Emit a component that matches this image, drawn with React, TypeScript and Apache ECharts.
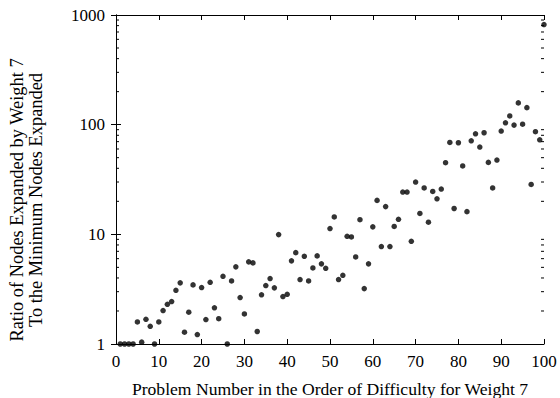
import React, { useEffect, useRef } from "react";
import * as echarts from "echarts";

// Problem numbers (x) and ratio values (y)
const problemNumbers: number[] = Array.from({ length: 100 }, (_, i) => i + 1);
const ratios: number[] = [
  1, 1, 1, 1, 1.59, 1.04, 1.68, 1.45, 1.0, 1.59,
  2.02, 2.3, 2.44, 3.09, 3.61, 1.28, 1.95, 3.46, 1.22, 3.27,
  1.67, 3.65, 2.14, 1.7, 4.14, 1.0, 3.76, 5.05, 2.65, 1.88,
  5.61, 5.49, 1.3, 2.81, 3.41, 3.95, 3.25, 9.94, 2.71, 2.84,
  5.73, 6.81, 3.87, 6.3, 3.76, 4.94, 6.36, 5.38, 4.9, 11.3,
  14.4, 3.87, 4.23, 9.59, 9.47, 6.22, 13.6, 3.2, 5.38, 11.7,
  20.4, 7.73, 17.9, 7.73, 11.8, 13.7, 24.3, 24.3, 8.64, 30.0,
  15.5, 26.5, 12.9, 24.6, 21.1, 25.9, 45.0, 68.9, 17.2, 68.4,
  42.0, 16.1, 71.3, 82.6, 62.5, 84.4, 45.3, 26.5, 47.6, 87.4,
  104, 120, 99.1, 158, 101, 143, 28.5, 86.2, 72.8, 818,
];

const xTickLabels: string[] = ["0", "10", "20", "30", "40", "50", "60", "70", "80", "90", "100"];
const yTickLabels: string[] = ["1", "10", "100", "1000"];
const minorTickValues: number[] = [
  2, 3, 4, 5, 6, 7, 8, 9,
  20, 30, 40, 50, 60, 70, 80, 90,
  200, 300, 400, 500, 600, 700, 800, 900,
];

const xTitle = "Problem Number in the Order of Difficulty for Weight 7";
const yTitleLine1 = "Ratio of Nodes Expanded by Weight 7";
const yTitleLine2 = "To the Minimum Nodes Expanded";

const FS = 17;
const XTFS = 17.6;
const YTFS = 18.4;
const SERIF = `"Liberation Serif", serif`;

export default function App() {
  const ref = useRef<HTMLDivElement>(null);

  useEffect(() => {
    document.body.style.margin = "0";
    if (!ref.current) return;
    const chart = echarts.init(ref.current, undefined, { renderer: "svg" });

    const axisLine = { show: true, lineStyle: { color: "#000", width: 1 } };
    const majorTick = { show: true, inside: true, length: 5, lineStyle: { color: "#000", width: 1 } };

    const yLabelFormatter = (v: number) => {
      const e = Math.round(Math.log10(v));
      return yTickLabels[e] ?? String(v);
    };
    const xLabelFormatter = (v: number) => xTickLabels[Math.round(v / 10)] ?? String(v);

    const titleStyle = (text: string, size: number) => ({
      text,
      font: `${size}px ${SERIF}`,
      fill: "#000",
      align: "center",
      verticalAlign: "middle",
      textAlign: "center",
      textVerticalAlign: "middle",
    });

    const option: any = {
      animation: false,
      backgroundColor: "#fff",
      grid: { left: 116, right: 16, top: 15, bottom: 54, containLabel: false },
      xAxis: [
        {
          type: "value",
          min: 0,
          max: 100,
          interval: 10,
          position: "bottom",
          axisLine,
          axisTick: majorTick,
          axisLabel: { color: "#000", fontFamily: "Times New Roman", fontSize: FS, margin: 9, formatter: xLabelFormatter },
          splitLine: { show: false },
        },
        {
          type: "value",
          min: 0,
          max: 100,
          interval: 10,
          position: "top",
          axisLine,
          axisTick: majorTick,
          axisLabel: { show: false },
          splitLine: { show: false },
        },
      ],
      yAxis: [
        {
          type: "log",
          logBase: 10,
          min: 1,
          max: 1000,
          position: "left",
          axisLine,
          axisTick: majorTick,
          axisLabel: { color: "#000", fontFamily: "Times New Roman", fontSize: FS, margin: 11, formatter: yLabelFormatter },
          splitLine: { show: false },
        },
        {
          type: "log",
          logBase: 10,
          min: 1,
          max: 1000,
          position: "right",
          axisLine,
          axisTick: majorTick,
          axisLabel: { show: false },
          splitLine: { show: false },
        },
      ],
      series: [
        {
          type: "custom",
          silent: true,
          xAxisIndex: 0,
          yAxisIndex: 0,
          clip: false,
          data: minorTickValues.map((v) => [0, v]),
          renderItem: (_params: any, api: any) => {
            const v = api.value(1);
            const pL = api.coord([0, v]);
            const pR = api.coord([100, v]);
            const st = { stroke: "#000", lineWidth: 1 };
            return {
              type: "group",
              children: [
                { type: "line", shape: { x1: pL[0], y1: pL[1], x2: pL[0] + 3, y2: pL[1] }, style: st },
                { type: "line", shape: { x1: pR[0] - 3, y1: pR[1], x2: pR[0], y2: pR[1] }, style: st },
              ],
            };
          },
        },
        {
          type: "scatter",
          xAxisIndex: 0,
          yAxisIndex: 0,
          clip: false,
          symbol: "circle",
          symbolSize: 5.5,
          itemStyle: { color: "#000" },
          data: problemNumbers.map((n, i) => [n, ratios[i]]),
        },
      ],
      graphic: [
        { type: "text", x: 330, y: 388.5, style: titleStyle(xTitle, XTFS) },
        { type: "text", x: 17, y: 200, rotation: Math.PI / 2, style: titleStyle(yTitleLine1, YTFS) },
        { type: "text", x: 35.5, y: 200, rotation: Math.PI / 2, style: titleStyle(yTitleLine2, YTFS) },
      ],
    };

    chart.setOption(option);
    return () => chart.dispose();
  }, []);

  return <div ref={ref} style={{ width: 560, height: 398 }} />;
}
